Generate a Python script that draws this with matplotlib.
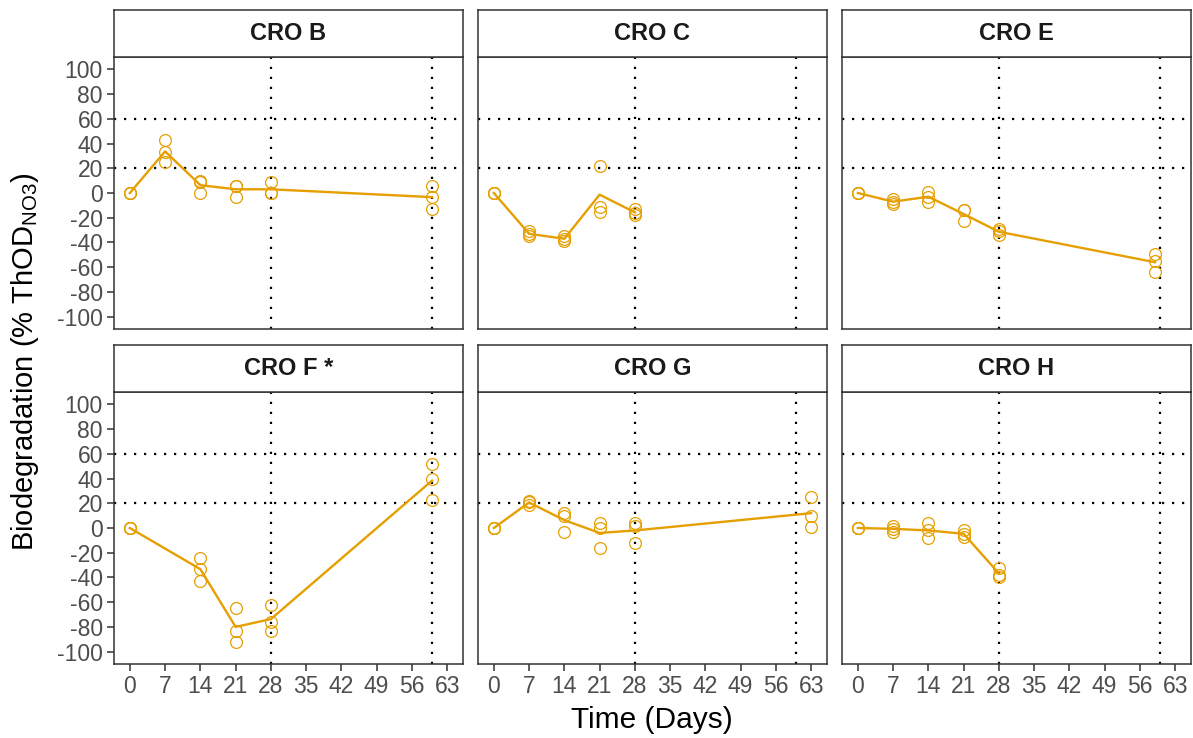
"""
Biodegradation curves, one facet per compound
"""
import matplotlib
matplotlib.use("Agg")
import matplotlib.pyplot as plt
import numpy as np

plt.rcParams['font.family'] = ['Liberation Sans', 'DejaVu Sans']
plt.rcParams['mathtext.fontset'] = 'custom'
plt.rcParams['mathtext.rm'] = 'Liberation Sans'
plt.rcParams['axes.unicode_minus'] = False

# panel titles
panels = ['CRO B', 'CRO C', 'CRO E', 'CRO F *', 'CRO G', 'CRO H']

# sampling days per panel
days_b = [0, 7, 14, 21, 28, 60]
days_c = [0, 7, 14, 21, 28]
days_e = [0, 7, 14, 21, 28, 59]
days_f = [0, 14, 21, 28, 60]
days_g = [0, 7, 14, 21, 28, 63]
days_h = [0, 7, 14, 21, 28]

# replicates (% ThOD) per day
reps_b = [[0, 0, 0], [43, 33, 25], [10, 9, 0], [6, 6, -3], [9, 0, 0], [6, -3, -13]]
reps_c = [[0, 0, 0], [-31, -33, -35], [-35, -37, -39], [22, -11, -15], [-13, -16, -18]]
reps_e = [[0, 0, 0], [-5, -7, -9], [1, -3, -7], [-14, -14, -23], [-29, -31, -34], [-49, -55, -64]]
reps_f = [[0, 0, 0], [-24, -33, -43], [-65, -83, -92], [-62, -76, -83], [52, 40, 23]]
reps_g = [[0, 0, 0], [22, 21, 19], [12, 10, -3], [4, 0, -16], [4, 2, -12], [25, 10, 1]]
reps_h = [[0, 0, 0], [2, -1, -3], [4, -2, -8], [-2, -5, -7], [-32, -38, -40]]

all_days = [days_b, days_c, days_e, days_f, days_g, days_h]
all_reps = [reps_b, reps_c, reps_e, reps_f, reps_g, reps_h]

x_ticks = [0, 7, 14, 21, 28, 35, 42, 49, 56, 63]
y_ticks = [-100, -80, -60, -40, -20, 0, 20, 40, 60, 80, 100]
ref_days = [28, 60]
ref_levels = [20, 60]

orange = '#E69F00'
dark = '#333333'
tick_grey = '#4D4D4D'

W, H = 1193, 738
fig = plt.figure(figsize=(W / 100, H / 100), dpi=100)

col_left = [114, 478, 842]
pw = 349
row_top = [57, 392]
ph = 272
strip_h = 47


def px_box(left, top, width, height):
    return [left / W, 1 - (top + height) / H, width / W, height / H]


for k in range(6):
    r, c = divmod(k, 3)
    ax = fig.add_axes(px_box(col_left[c], row_top[r], pw, ph))

    # reference lines
    for yl in ref_levels:
        ax.axhline(yl, color='black', lw=1.6, ls=(0, (1, 3.5)), zorder=1)
    for xl in ref_days:
        ax.axvline(xl, color='black', lw=1.6, ls=(0, (1, 3.5)), zorder=1)

    d = np.array(all_days[k])
    reps = np.array(all_reps[k], dtype=float)
    for i in range(len(d)):
        ax.plot([d[i]] * reps.shape[1], reps[i], 'o', ms=8.5, mfc='none',
                mec=orange, mew=0.9, zorder=3)
    ax.plot(d, reps.mean(axis=1), color=orange, lw=1.7, zorder=4)

    ax.set_xlim(-3.15, 66.15)
    ax.set_ylim(-110, 110)
    ax.set_xticks(x_ticks)
    ax.set_yticks(y_ticks)
    ax.tick_params(length=5, width=1.1, color=dark, labelcolor=tick_grey,
                   labelsize=16.5, pad=3)
    if c != 0:
        ax.tick_params(axis='y', left=False, labelleft=False)
    if r != 1:
        ax.tick_params(axis='x', bottom=False, labelbottom=False)
    for s in ax.spines.values():
        s.set_color(dark)
        s.set_linewidth(1.1)

    # facet strip
    sax = fig.add_axes(px_box(col_left[c], row_top[r] - strip_h, pw, strip_h))
    sax.set_xticks([])
    sax.set_yticks([])
    for s in sax.spines.values():
        s.set_color(dark)
        s.set_linewidth(1.1)
    sax.text(0.5, 0.5, panels[k], ha='center', va='center', fontsize=17,
             fontweight='bold', color='#1A1A1A', transform=sax.transAxes)

fig.text(652 / W, 1 - 720 / H, 'Time (Days)', ha='center', va='center',
         fontsize=21.5, color='black')
fig.text(25 / W, 1 - 362 / H, r'Biodegradation (% ThOD$_{\mathrm{NO3}}$)',
         ha='center', va='center', rotation=90, fontsize=21, color='black')

fig.savefig('out.png', dpi=100)
